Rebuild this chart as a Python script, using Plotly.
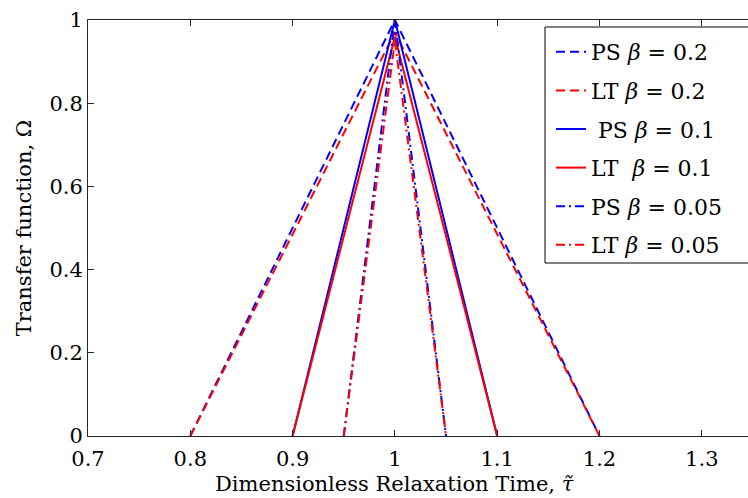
import plotly.graph_objects as go

# Data (triangular transfer functions)
ps_02_x = [0.8, 1.0, 1.2]
ps_02_y = [0.0, 1.0, 0.0]
lt_02_x = [0.8, 1.0, 1.2]
lt_02_y = [0.0, 0.97, 0.0]
ps_01_x = [0.9, 1.0, 1.1]
ps_01_y = [0.0, 1.0, 0.0]
lt_01_x = [0.9, 1.0, 1.1]
lt_01_y = [0.0, 0.96, 0.0]
ps_005_x = [0.95, 1.0, 1.05]
ps_005_y = [0.0, 1.0, 0.0]
lt_005_x = [0.95, 1.0, 1.05]
lt_005_y = [0.0, 0.95, 0.0]

x_ticks = [0.7, 0.8, 0.9, 1.0, 1.1, 1.2, 1.3]
x_tick_text = ["0.7", "0.8", "0.9", "1", "1.1", "1.2", "1.3"]
y_ticks = [0, 0.2, 0.4, 0.6, 0.8, 1.0]
y_tick_text = ["0", "0.2", "0.4", "0.6", "0.8", "1"]

FONT = "DejaVu Serif, serif"
BLUE = "#0000FF"
RED = "#FF0000"
DASH = "9px,5px"
DASHDOT = "9px,4px,2px,4px"

series = [
    (ps_02_x, ps_02_y, BLUE, DASH, "PS <i>β</i> = 0.2"),
    (lt_02_x, lt_02_y, RED, DASH, "LT <i>β</i> = 0.2"),
    (ps_01_x, ps_01_y, BLUE, "solid", " PS <i>β</i> = 0.1"),
    (lt_01_x, lt_01_y, RED, "solid", "LT  <i>β</i> = 0.1"),
    (ps_005_x, ps_005_y, BLUE, DASHDOT, "PS <i>β</i> = 0.05"),
    (lt_005_x, lt_005_y, RED, DASHDOT, "LT <i>β</i> = 0.05"),
]

fig = go.Figure()
for i, (xs, ys, col, dash, name) in enumerate(series):
    fig.add_trace(go.Scatter(
        x=xs, y=ys, mode="lines", name=name, legendgroup=f"g{i}",
        line=dict(color=col, width=2, dash=dash),
    ))

W, H = 748, 498
L, R, T, B = 88, 0, 20, 62
PW, PH = W - L - R, H - T - B


def px_x(px):
    return (px - L) / PW


def px_y(py):
    return 1 - (py - T) / PH


fig.update_layout(
    width=W, height=H,
    margin=dict(l=L, r=R, t=T, b=B),
    paper_bgcolor="white", plot_bgcolor="white",
    font=dict(family=FONT, size=21, color="black"),
    showlegend=True,
    legend=dict(
        x=px_x(551), y=px_y(31),
        xanchor="left", yanchor="top",
        bgcolor="rgba(0,0,0,0)", borderwidth=0,
        font=dict(family=FONT, size=22, color="black"),
        traceorder="grouped", tracegroupgap=7,
        itemwidth=30,
    ),
    xaxis=dict(
        range=[0.7, 0.7 + PW / 1023.0],
        tickvals=x_ticks, ticktext=x_tick_text,
        ticks="inside", ticklen=6, tickcolor="#262626",
        showline=True, linecolor="#262626", linewidth=1, mirror="ticks",
        showgrid=False, zeroline=False,
        tickfont=dict(family=FONT, size=21),
        ticklabelstandoff=4,
    ),
    yaxis=dict(
        range=[0, 1],
        tickvals=y_ticks, ticktext=y_tick_text,
        ticks="inside", ticklen=6, tickcolor="#262626",
        showline=True, linecolor="#262626", linewidth=1,
        showgrid=False, zeroline=False,
        tickfont=dict(family=FONT, size=21),
        title=dict(text="Transfer function, Ω", standoff=12,
                   font=dict(family=FONT, size=21)),
    ),
    annotations=[dict(
        text="Dimensionless Relaxation Time, <i>τ̃</i>",
        xref="paper", yref="paper", x=px_x(394), y=px_y(484),
        xanchor="center", yanchor="middle", showarrow=False,
        font=dict(family=FONT, size=21, color="black"),
    )],
    shapes=[dict(
        type="rect", xref="paper", yref="paper",
        x0=px_x(545), x1=1.05,
        y0=px_y(263), y1=px_y(27),
        line=dict(color="black", width=1), fillcolor="white", layer="above",
    )],
)

fig.write_html("out.html")
